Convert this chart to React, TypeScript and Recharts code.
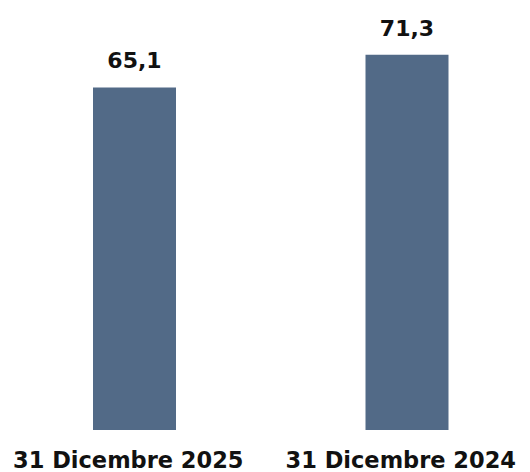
import { BarChart, Bar, XAxis, YAxis, LabelList } from "recharts";

const categories = ["31 Dicembre 2025", "31 Dicembre 2024"];
const values = [65.1, 71.3];

const data = categories.map((name, i) => ({ name, value: values[i] }));

const FONT = "'DejaVu Sans', sans-serif";

function Tick(props: any) {
  const { x, y, payload } = props;
  return (
    <text x={x} y={y} dx={-6} dy={30} textAnchor="middle" fontFamily={FONT} fontWeight={700} fontSize={22.5} fill="#111">
      {payload.value}
    </text>
  );
}

export default function App() {
  return (
    <div style={{ position: "absolute", left: 0, top: 0, width: 530, height: 472, background: "#fff" }}>
      <BarChart width={530} height={472} data={data} margin={{ top: 9, right: -13, bottom: 0, left: -2 }}>
        <XAxis dataKey="name" axisLine={false} tickLine={false} height={42} tick={<Tick />} interval={0} />
        <YAxis hide domain={[0, 80]} />
        <Bar dataKey="value" fill="#526a87" barSize={83} isAnimationActive={false}>
          <LabelList
            dataKey="value"
            position="top"
            offset={19}
            formatter={(v: any) => String(v).replace(".", ",")}
            style={{ fontFamily: FONT, fontWeight: 700, fontSize: 22, fill: "#111" }}
          />
        </Bar>
      </BarChart>
    </div>
  );
}
